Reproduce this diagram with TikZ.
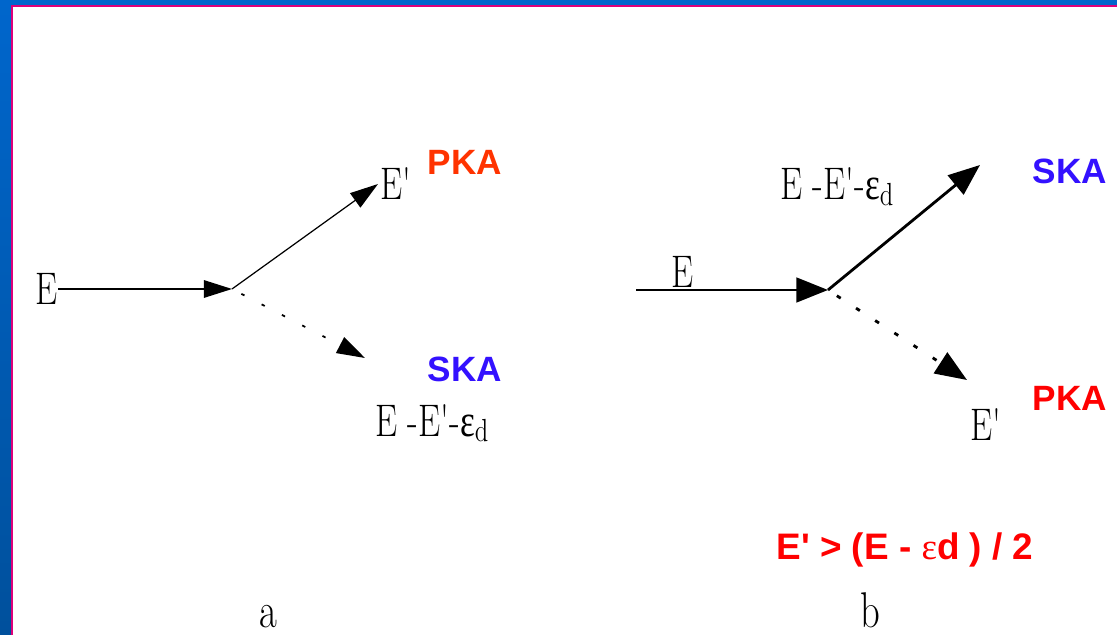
\documentclass[tikz,border=0pt]{standalone}
\usepackage{fontspec}
\usepackage{graphicx}
\usepackage{amsmath}
\usepackage{tikz}
\usetikzlibrary{
  arrows.meta,
  positioning
}
\newfontfamily\slidefont{Liberation Sans}
\newfontfamily\greekfont{Liberation Serif}
\definecolor{FrameBlue}{RGB}{0, 102, 204}
\definecolor{FrameBlueDark}{RGB}{0, 80, 156}
\definecolor{FrameMagenta}{RGB}{220, 0, 122}
\definecolor{PkaOrange}{RGB}{255, 51, 0}
\definecolor{PkaRed}{RGB}{255, 0, 0}
\definecolor{SkaBlue}{RGB}{51, 17, 255}
\newcommand{\stretched}[1]{\scalebox{1}[1.3]{#1}}
\newcommand{\epsd}{{\greekfont ε}\raisebox{-0.3ex}{\fontsize{14}{16}\selectfont d}}
\tikzset{
    figlabel/.style={inner sep=0pt, font=\fontsize{20}{24}\selectfont},
    tag/.style={inner sep=0pt, font=\slidefont\bfseries\fontsize{20}{24}\selectfont},
    thinarrow/.style={line width=0.7pt, -{Triangle[length=16pt, width=10pt]}},
    thickarrow/.style={line width=1.6pt, -{Triangle[length=18pt, width=14pt]}},
    sparsedots/.style={dash pattern=on 2pt off 11pt, dash phase=7pt}
}

\begin{document}
\begin{tikzpicture}[x=0.02cm, y=-0.02cm]
    \useasboundingbox (0,0) rectangle (1117,635);
    \fill[FrameBlue] (0,0) rectangle (1117,5);
    \shade[top color=FrameBlue, bottom color=FrameBlueDark] (0,0) rectangle (11,635);
    \fill[FrameMagenta] (11,5) rectangle (13,635);
    \fill[FrameMagenta] (11,5) rectangle (1117,7);

    \node[figlabel, anchor=east] (Ea) at (58,289) {\stretched{E}};
    \coordinate (hitA) at (232,289);
    \coordinate (downA) at (365,358);
    \node[figlabel, anchor=west, inner sep=1pt] (EpA) at (378,184) {\stretched{E\textquotesingle}};
    \draw[thinarrow] (Ea.east) -- (hitA);
    \draw[thinarrow] (hitA) -- (EpA.west);
    \draw[thinarrow, sparsedots, line width=1pt] (hitA) -- (downA);
    \node[tag, text=PkaOrange] (pkaA) at (465,162) {PKA};
    \node[tag, text=SkaBlue] (skaA) at (465,369) {SKA};
    \node[figlabel, anchor=base west] (restA) at (375,436) {\stretched{E -E\textquotesingle-\epsd}};

    \coordinate (startB) at (636,290);
    \coordinate (hitB) at (828,290);
    \coordinate (upB) at (980,165);
    \coordinate (downB) at (967,380);
    \draw[thickarrow] (startB) -- (hitB);
    \draw[thickarrow] (hitB) -- (upB);
    \draw[thickarrow, sparsedots, dash pattern=on 2.6pt off 10.4pt] (hitB) -- (downB);
    \node[figlabel, anchor=base] (Eb) at (683,288) {\stretched{E}};
    \node[figlabel, anchor=base west] (restB) at (780,200) {\stretched{E -E\textquotesingle-\epsd}};
    \node[tag, text=SkaBlue] (skaB) at (1070,171) {SKA};
    \node[figlabel, anchor=base west] (EpB) at (970,440) {\stretched{E\textquotesingle}};
    \node[tag, text=PkaRed] (pkaB) at (1070,398) {PKA};
    \node[tag, text=PkaRed, font=\slidefont\bfseries\fontsize{21}{25}\selectfont] (rule) at (905,550)
        {E\textquotesingle{} > (E - {\greekfont\mdseries ε}d ) / 2};

    \node[figlabel, font=\fontsize{22}{26}\selectfont, anchor=base] (capA) at (268,627) {\stretched{a}};
    \node[figlabel, font=\fontsize{22}{26}\selectfont, anchor=base] (capB) at (870,627) {\stretched{b}};
\end{tikzpicture}
\end{document}
